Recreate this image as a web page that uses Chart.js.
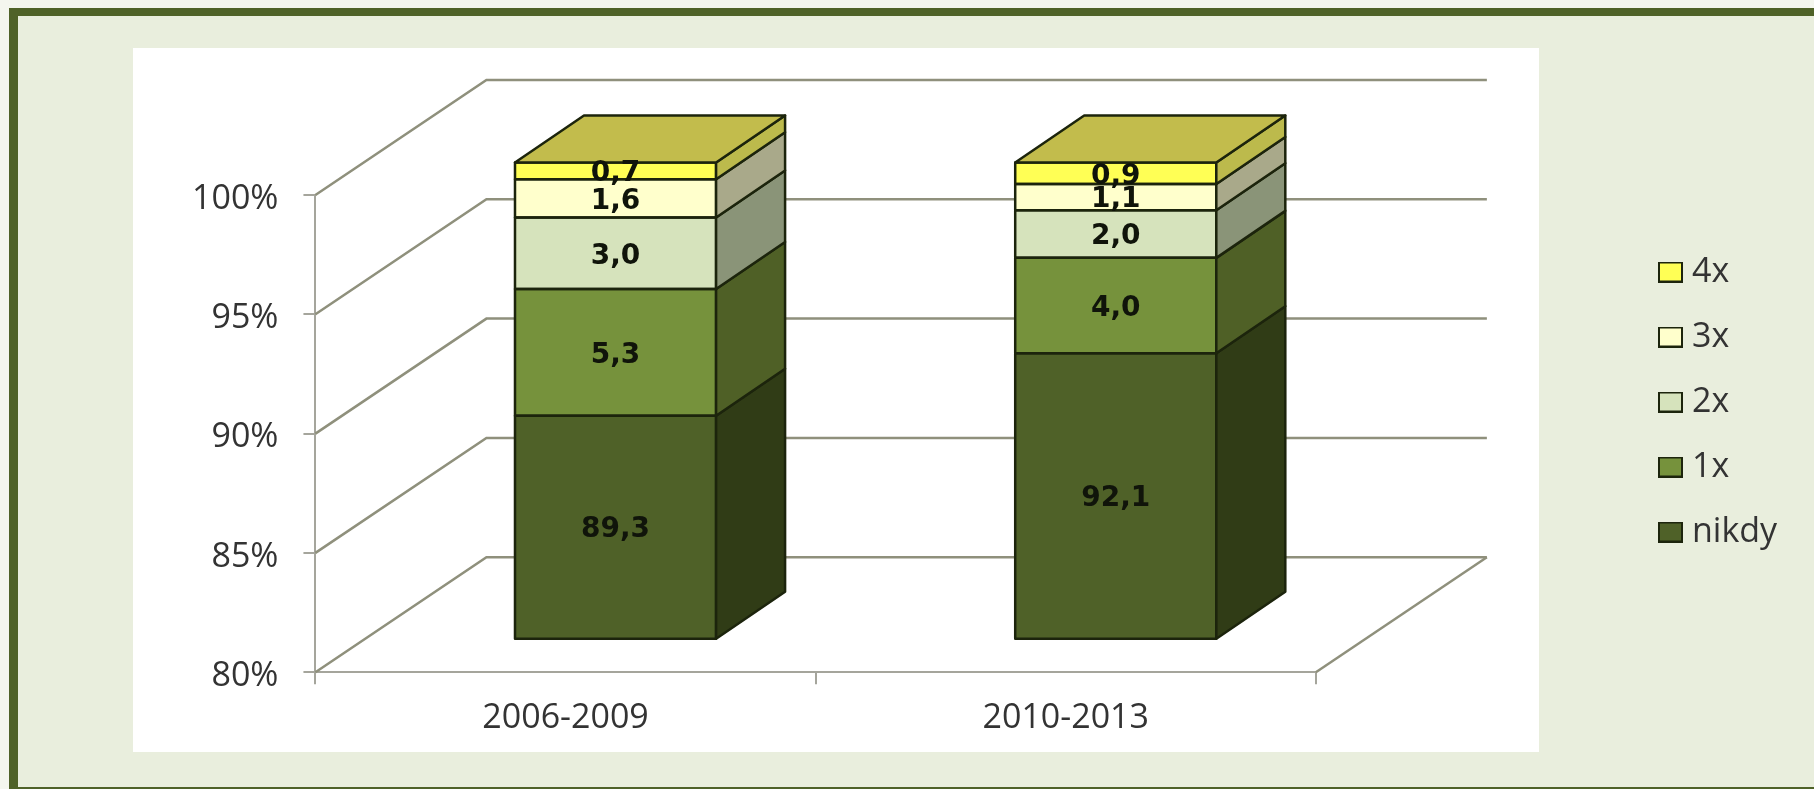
<!DOCTYPE html>
<html>
<head>
<meta charset="utf-8">
<script src="https://cdn.jsdelivr.net/npm/chart.js@4"></script>
<style>
  html, body { margin: 0; padding: 0; background: #f4f6ee; overflow: hidden; }
  #frame { position: absolute; box-sizing: border-box; left: 9px; top: 8px; width: 1805px; height: 781px; border: solid #4f6228; border-width: 8px 0 2px 9px; background: #e9eedd; }
  #white { position: absolute; left: 133px; top: 48px; width: 1406px; height: 704px; background: #fff; }
  canvas { position: absolute; left: 0; top: 0; }
</style>
</head>
<body>
<div id="frame"></div>
<div id="white"></div>
<canvas id="chart" width="1814" height="789"></canvas>
<script>
const periods = ['2006-2009', '2010-2013'];
const nikdy = [89.3, 92.1];
const once = [5.3, 4.0];
const twice = [3.0, 2.0];
const thrice = [1.6, 1.1];
const four = [0.7, 0.9];
const yTicks = [80, 85, 90, 95, 100];

// chart is 100% stacked, so segments get scaled to the column total
const rows = [nikdy, once, twice, thrice, four];
const totals = periods.map((p, i) => rows.reduce((s, r) => s + r[i], 0));
const toShare = (arr) => arr.map((v, i) => v / totals[i] * 100);

const seriesStyle = [
  { label: 'nikdy', raw: nikdy, front: '#4f6128', side: '#303c16' },
  { label: '1x', raw: once, front: '#76923c', side: '#4f6026' },
  { label: '2x', raw: twice, front: '#d6e3bc', side: '#8a9478' },
  { label: '3x', raw: thrice, front: '#ffffcc', side: '#a9a98a' },
  { label: '4x', raw: four, front: '#ffff55', side: '#bcba4c' },
];
const topColor = '#c2bc4c';
const edge = '#1c240c';
const wallColor = '#8f907c';
const axisColor = '#a5a59c';
const textColor = '#333333';

// projection of the fake 3d
const wallDepth = { x: 171, y: -115 };
const barShift = { x: 50, y: -32.5 };
const barDepth = { x: 69, y: -47 };

// legend swatch as an image, the stock box leaves too wide a gap before the text
function swatch(fill) {
  const c = document.createElement('canvas');
  c.width = 25;
  c.height = 21;
  const g = c.getContext('2d');
  g.fillStyle = fill;
  g.fillRect(0, 0, 25, 21);
  g.strokeStyle = edge;
  g.lineWidth = 2;
  g.strokeRect(1, 1, 23, 19);
  return c;
}

const pseudo3d = {
  id: 'pseudo3d',
  afterLayout(chart) {
    // legend lives to the right of the white plate, not next to the plot
    const lg = chart.legend;
    const dx = 1635 - lg.left;
    const dy = 402 - (lg.top + lg.bottom) / 2;
    lg.left += dx; lg.right += dx;
    lg.top += dy; lg.bottom += dy;
  },
  beforeDatasetsDraw(chart) {
    const { ctx, scales: { y }, chartArea: a } = chart;
    ctx.save();
    ctx.strokeStyle = wallColor;
    ctx.lineWidth = 2.5;
    yTicks.forEach((t) => {
      const py = y.getPixelForValue(t);
      ctx.beginPath();
      ctx.moveTo(a.left, py);
      ctx.lineTo(a.left + wallDepth.x, py + wallDepth.y);
      ctx.lineTo(a.right + wallDepth.x, py + wallDepth.y);
      ctx.stroke();
    });
    // floor right edge
    ctx.beginPath();
    ctx.moveTo(a.right, a.bottom);
    ctx.lineTo(a.right + wallDepth.x, a.bottom + wallDepth.y);
    ctx.stroke();
    ctx.restore();
    ctx.save();
    ctx.translate(barShift.x, barShift.y);
  },
  afterDatasetsDraw(chart) {
    const { ctx } = chart;
    ctx.lineWidth = 2.5;
    ctx.strokeStyle = edge;
    ctx.lineJoin = 'round';
    const face = (pts, fill) => {
      ctx.beginPath();
      pts.forEach((p, i) => (i ? ctx.lineTo(p[0], p[1]) : ctx.moveTo(p[0], p[1])));
      ctx.closePath();
      ctx.fillStyle = fill;
      ctx.fill();
      ctx.stroke();
    };
    const last = seriesStyle.length - 1;
    seriesStyle.forEach((s, d) => {
      chart.getDatasetMeta(d).data.forEach((bar) => {
        const r = bar.x + bar.width / 2;
        const l = bar.x - bar.width / 2;
        // outline here and not as bar border, stacked borders come out doubled
        ctx.strokeRect(l, bar.y, bar.width, bar.base - bar.y);
        face([[r, bar.y], [r, bar.base], [r + barDepth.x, bar.base + barDepth.y], [r + barDepth.x, bar.y + barDepth.y]], s.side);
        if (d === last) {
          face([[l, bar.y], [r, bar.y], [r + barDepth.x, bar.y + barDepth.y], [l + barDepth.x, bar.y + barDepth.y]], topColor);
        }
      });
    });
    ctx.fillStyle = '#10140a';
    ctx.font = 'bold 28px "DejaVu Sans"';
    ctx.textAlign = 'center';
    ctx.textBaseline = 'middle';
    seriesStyle.forEach((s, d) => {
      chart.getDatasetMeta(d).data.forEach((bar, i) => {
        ctx.fillText(s.raw[i].toFixed(1).replace('.', ','), bar.x, (bar.y + bar.base) / 2 + 3);
      });
    });
    ctx.restore();
  },
};

const textFont = { family: '"Open Sans"', size: 34 };

new Chart(document.getElementById('chart'), {
  type: 'bar',
  data: {
    labels: periods,
    datasets: seriesStyle.map((s, d) => ({
      label: s.label,
      data: toShare(s.raw),
      backgroundColor: s.front,
      borderWidth: 0,
      categoryPercentage: 1,
      barPercentage: 0.402,
      base: d === 0 ? yTicks[0] : undefined,
      clip: false,
    })),
  },
  options: {
    responsive: false,
    animation: false,
    layout: { padding: { left: 167, top: 195, right: 346, bottom: 36 } },
    plugins: {
      tooltip: { enabled: false },
      legend: {
        position: 'right',
        reverse: true,
        labels: {
          font: textFont,
          color: textColor,
          usePointStyle: true,
          pointStyleWidth: 9,
          boxHeight: 21,
          padding: 31,
          generateLabels(chart) {
            return Chart.defaults.plugins.legend.labels.generateLabels(chart).map((item) => {
              item.pointStyle = swatch(seriesStyle[item.datasetIndex].front);
              return item;
            });
          },
        },
      },
    },
    scales: {
      x: {
        stacked: true,
        grid: { drawOnChartArea: false, color: axisColor, lineWidth: 2, tickLength: 12 },
        border: { color: axisColor, width: 2 },
        ticks: { font: textFont, color: textColor, padding: 14 },
      },
      y: {
        stacked: true,
        min: yTicks[0],
        max: yTicks[yTicks.length - 1],
        grid: { drawOnChartArea: false, color: axisColor, lineWidth: 2, tickLength: 12 },
        border: { color: axisColor, width: 2 },
        ticks: { stepSize: 5, font: textFont, color: textColor, padding: 25, labelOffset: 4, callback: (v) => v + '%' },
      },
    },
  },
  plugins: [pseudo3d],
});
</script>
</body>
</html>
